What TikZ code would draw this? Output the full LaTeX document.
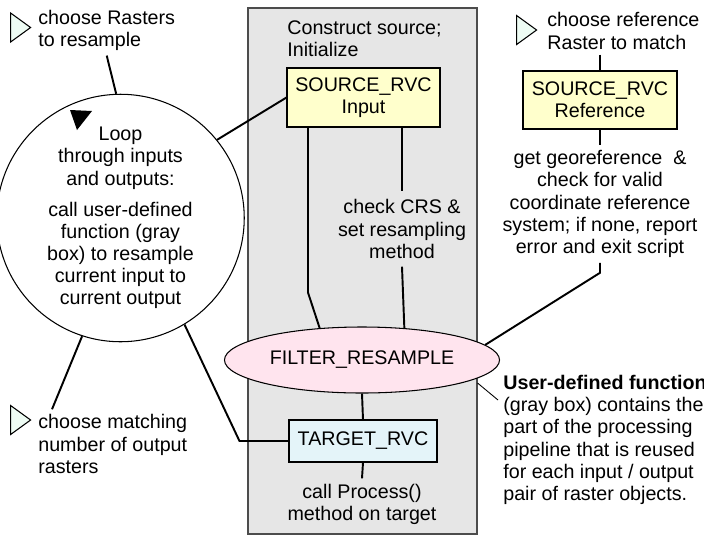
\documentclass[tikz,border=0pt]{standalone}
\usepackage{fontspec}
\setmainfont{Liberation Sans}
\usepackage{xcolor}
\usetikzlibrary{shapes.geometric}

\definecolor{boxgray}{HTML}{E6E6E6}
\definecolor{srcyellow}{HTML}{FFFFCC}
\definecolor{filtpink}{HTML}{FFE4EE}
\definecolor{tgtblue}{HTML}{E4F4F9}
\definecolor{pickgreen}{HTML}{EEFCF4}

\begin{document}
\begin{tikzpicture}[
        font=\fontsize{11.2}{12.6}\selectfont,
        every node/.style={inner sep=0.1cm},
        conn/.style={line width=1.1pt},
        rvc/.style={draw,rectangle,line width=0.6pt,inner sep=2pt,align=center},
        note/.style={align=center},
        pick/.style={draw,isosceles triangle,isosceles triangle stretches,minimum width=0.58cm,minimum height=0.4cm,inner sep=0,fill=pickgreen,line width=0.6pt}
    ]

        \useasboundingbox (0,0) rectangle (14.08,-10.7);

        % user-defined function (gray box)
        \node[draw=black!70,fill=boxgray,line width=0.6pt,minimum width=4.58cm,minimum height=10.52cm] (udf) at (7.25,-5.42) {};
        \node[anchor=west,align=left] (init) at (5.64,-0.78) {Construct source;\\Initialize};
        \node[rvc,fill=srcyellow,minimum width=3.06cm,minimum height=1.18cm] (src) at (7.27,-1.95) {SOURCE\_RVC\\Input};
        \node[note,inner ysep=0.16cm] (crs) at (8.04,-4.58) {check CRS \&\\set resampling\\method};
        \node[draw,ellipse,fill=filtpink,line width=0.6pt,minimum width=4.2cm,minimum height=1.32cm] (filt) at (7.24,-7.2) {FILTER\_RESAMPLE};
        \node[rvc,fill=tgtblue,minimum width=2.96cm,minimum height=0.84cm] (tgt) at (7.26,-8.82) {TARGET\_RVC};
        \node[note] (proc) at (7.24,-10.08) {call Process()\\method on target};

        % reference raster
        \node[pick] (tri3) at (10.48,-0.6) {};
        \node[anchor=west,align=left] (chref) at (10.84,-0.62) {choose reference\\Raster to match};
        \node[rvc,fill=srcyellow,minimum width=3.08cm,minimum height=1.16cm] (ref) at (12.0,-2.0) {SOURCE\_RVC\\Reference};
        \node[note] (georef) at (12.0,-4.08) {get georeference~ \&\\check for valid\\coordinate reference\\system; if none, report\\error and exit script};

        % loop
        \node[draw,circle,line width=0.6pt,minimum size=4.45cm,align=center] (loop) at (2.41,-4.36) {Loop\\through inputs\\and outputs:\\[5pt]call user-defined\\function (gray\\box) to resample\\current input to\\current output};
        \node[pick] (tri1) at (0.36,-0.55) {};
        \node[anchor=west,align=left] (chin) at (0.66,-0.6) {choose Rasters\\to resample};
        \node[pick] (tri2) at (0.36,-8.4) {};
        \node[anchor=west,align=left] (chout) at (0.66,-8.88) {choose matching\\number of output\\rasters};

        \node[anchor=north west,align=left] (udfnote) at (9.96,-7.4) {\textbf{User-defined function}\\(gray box) contains the\\part of the processing\\pipeline that is reused\\for each input / output\\pair of raster objects.};

        \draw[conn] (chin.south) -- (loop.92);
        \draw[conn] (loop.39) -- (src.west);
        \draw[conn] (loop.-108) -- ([xshift=0.38cm]chout.north west);
        \draw[conn] (tgt.west) -- ++(-0.98,0) -- (loop.-59);
        \fill (1.4,-2.2) -- (1.84,-2.22) -- (1.54,-2.6) -- cycle;

        \draw[conn] ([xshift=-1.11cm]src.south) -- ++(0,-3.3) -- (filt.143);
        \draw[conn] (src.south -| crs.north) -- (crs.north);
        \draw[conn] (crs.south) -- (filt.37);
        \draw[conn] (filt.south) -- (tgt.north);
        \draw[conn] (tgt.south) -- (proc.north);

        \draw[conn] (chref.south -| ref.north) -- (ref.north);
        \draw[conn] (ref.south) -- (georef.north);
        \draw[conn] (georef.south) -- ++(0,-0.2) -- (filt.7);

        \draw[line width=0.5pt] ([yshift=-2.24cm]udf.east) -- ([yshift=-0.6cm]udfnote.north west);
    \end{tikzpicture}
\end{document}
